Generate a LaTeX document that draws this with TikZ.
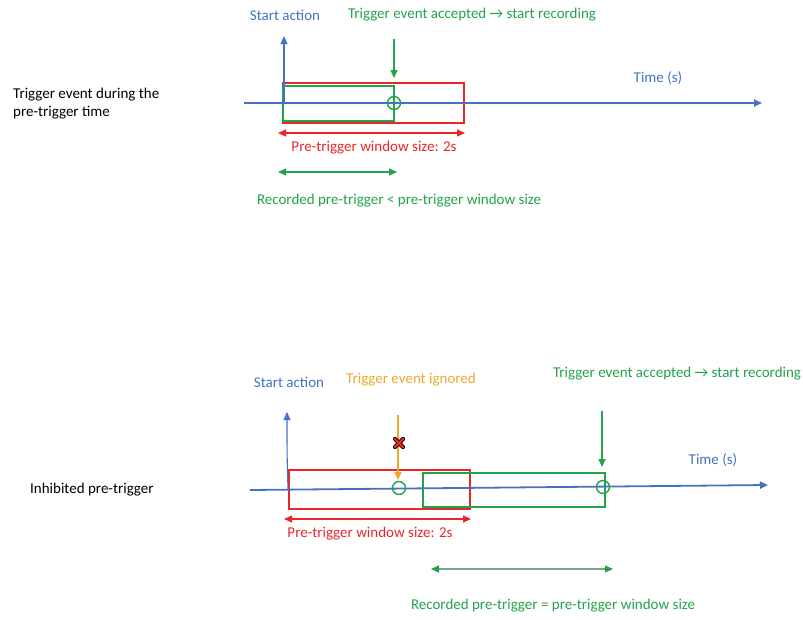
\documentclass[tikz,border=0pt]{standalone}
\usepackage{fontspec}
\setmainfont{Carlito}
\usetikzlibrary{arrows.meta,calc}
\definecolor{cblue}{HTML}{4472C4}
\definecolor{cgreen}{HTML}{22A24A}
\definecolor{cred}{HTML}{E8262A}
\definecolor{corange}{HTML}{EDA92F}
\definecolor{cgray}{HTML}{7FA08A}
\tikzset{
  lbl/.style={font=\fontsize{15}{18}\selectfont, inner sep=0pt},
  axis/.style={cblue, line width=1.8pt, -{Triangle[length=8pt,width=7pt]}},
  upar/.style={cblue, line width=1.1pt, -{Triangle[length=8pt,width=7pt]}},
  gdown/.style={cgreen, line width=1.1pt, -{Triangle[length=8pt,width=7pt]}},
  odown/.style={corange, line width=1.3pt, -{Triangle[length=8pt,width=7pt]}},
  redwin/.style={draw=cred, line width=2.2pt},
  grnwin/.style={draw=cgreen, line width=2.4pt},
  evt/.style={circle, draw=cgreen, line width=1.4pt, minimum size=13pt, inner sep=0pt},
  rdim/.style={cred, line width=1.1pt, {Triangle[length=8pt,width=7pt]}-{Triangle[length=8pt,width=7pt]}},
  gdim/.style={cgreen, line width=1.1pt, {Triangle[length=8pt,width=7pt]}-{Triangle[length=8pt,width=7pt]}},
  gdimb/.style={cgray, line width=1.1pt, {Triangle[length=8pt,width=7pt,color=cgreen]}-{Triangle[length=8pt,width=7pt,color=cgreen]}},
}
\begin{document}
\begin{tikzpicture}[x=1pt,y=-1pt]
\useasboundingbox (0,0) rectangle (803,619);

% ---------- Top diagram ----------
\node[lbl, anchor=west, align=left] (t1) at (13,104) {Trigger event during the\\pre-trigger time};
\node[lbl, text=cblue] (sa1) at (285,15) {Start action};
\node[lbl, text=cgreen] (acc1) at (472,15) {Trigger event accepted \textrightarrow\ start recording};
\node[lbl, text=cblue] (time1) at (658,78) {Time (s)};

\coordinate (ax1s) at (244,103);
\coordinate (ax1e) at (762,103);
\draw[redwin] (283,83) rectangle (464,123);
\draw[grnwin] (283,86) rectangle (394,121);
\draw[axis] (ax1s) -- (ax1e);
\coordinate (sa1b) at (284,103);
\coordinate (sa1t) at (284,36);
\draw[upar] (sa1b) -- (sa1t);
\node[evt] (ev1) at (394,103) {};
\coordinate (g1t) at (394,39);
\draw[gdown] (g1t) -- (394,78);

\coordinate (r1l) at (278,133);
\coordinate (r1r) at (465,133);
\draw[rdim] (r1l) -- (r1r);
\node[lbl, text=cred] (pw1) at (374,148) {Pre-trigger window size: 2s};
\coordinate (g1l) at (278,172);
\coordinate (g1r) at (397,172);
\draw[gdim] (g1l) -- (g1r);
\node[lbl, text=cgreen] (rec1) at (399,201) {Recorded pre-trigger < pre-trigger window size};

% ---------- Bottom diagram ----------
\node[lbl, anchor=west] (t2) at (30,490) {Inhibited pre-trigger};
\node[lbl, text=cblue] (sa2) at (289,382) {Start action};
\node[lbl, text=corange] (ign) at (411,380) {Trigger event ignored};
\node[lbl, text=cgreen] (acc2) at (677,374) {Trigger event accepted \textrightarrow\ start recording};
\node[lbl, text=cblue] (time2) at (713,460) {Time (s)};

\draw[redwin] (289,470) rectangle (470,509);
\draw[grnwin] (423,473) rectangle (605,507);
\coordinate (ax2s) at (250,490);
\coordinate (ax2e) at (768,485);
\draw[axis] (ax2s) -- (ax2e);
\coordinate (sa2b) at (288,489);
\coordinate (sa2t) at (287,412);
\draw[upar] (sa2b) to[out=92,in=-90] (sa2t);
\node[evt] (ev2) at (399,488) {};
\node[evt] (ev3) at (603,487) {};
\coordinate (o2t) at (398,415);
\draw[odown] (o2t) -- (398,480);
\coordinate (g2t) at (602,411);
\draw[gdown] (g2t) -- (602,467);
% red cross marker
\coordinate (xm) at (399,443);
\draw[black, line width=4.2pt, line cap=round] ($(xm)+(-4,-4)$) -- ($(xm)+(4,4)$) ($(xm)+(-4,4)$) -- ($(xm)+(4,-4)$);
\draw[cred, line width=2.4pt, line cap=round] ($(xm)+(-4,-4)$) -- ($(xm)+(4,4)$) ($(xm)+(-4,4)$) -- ($(xm)+(4,-4)$);

\coordinate (r2l) at (284,519);
\coordinate (r2r) at (471,519);
\draw[rdim] (r2l) -- (r2r);
\node[lbl, text=cred] (pw2) at (370,534) {Pre-trigger window size: 2s};
\coordinate (g2l) at (431,569);
\coordinate (g2r) at (613,569);
\draw[gdimb] (g2l) -- (g2r);
\node[lbl, text=cgreen] (rec2) at (553,606) {Recorded pre-trigger = pre-trigger window size};
\end{tikzpicture}
\end{document}
